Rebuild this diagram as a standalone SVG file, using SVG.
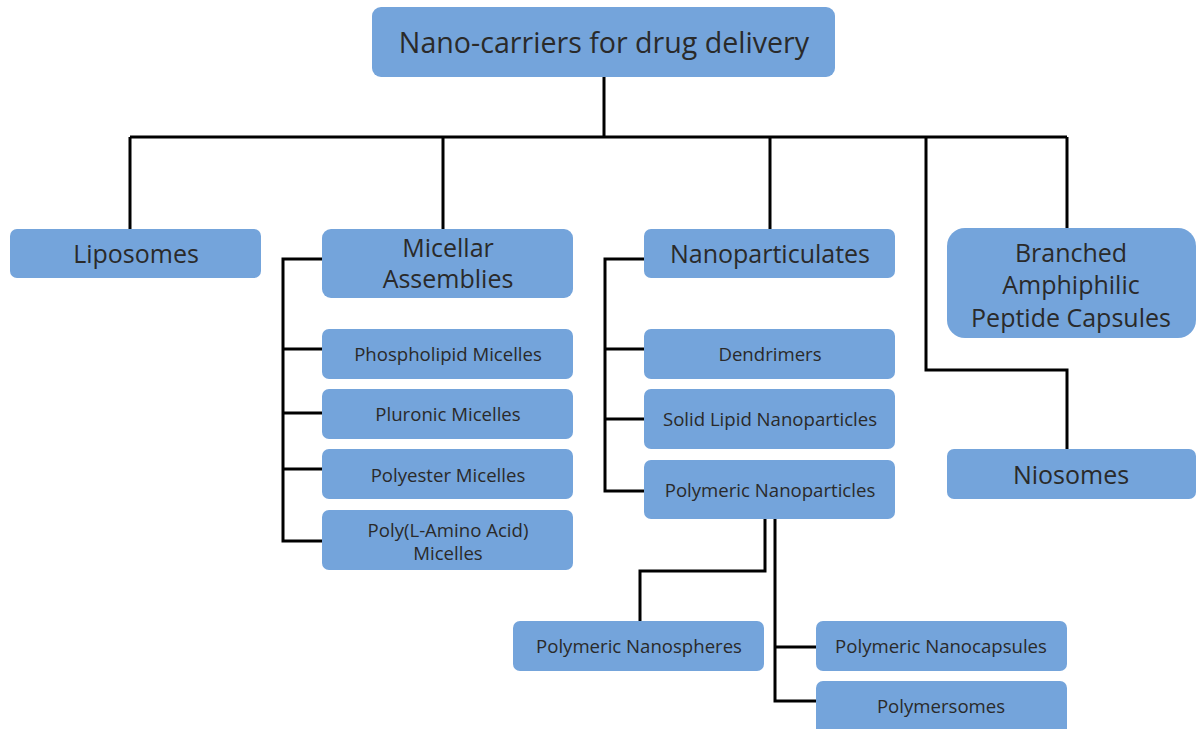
<svg xmlns="http://www.w3.org/2000/svg" width="1196" height="729" viewBox="0 0 1196 729">
<style>
.box{fill:#74A4DB;}
.t{font-family:"Open Sans","Noto Sans","Liberation Sans",sans-serif;fill:#2A2A2A;text-anchor:middle;}
.xl{font-size:28.6px;}
.l{font-size:25px;}
.s{font-size:18.6px;}
.c{fill:none;stroke:#000;stroke-width:3;stroke-linejoin:miter;}
</style>
<rect width="1196" height="729" fill="#fff"/>
<g id="connectors">
<path class="c" d="M604 77V137M130 137H1067M130 137V229M443 137V229M770 137V229M1067 137V228M926 137V370H1067V449"/>
<path class="c" d="M322 259H283V541H322M283 349H322M283 413H322M283 469H322"/>
<path class="c" d="M644 259H605V491H644M605 349H644M605 419H644"/>
<path class="c" d="M765 519V571H640V621M775 519V701H816M775 647H816"/>
</g>
<g id="root"><rect class="box" x="372" y="7" width="463" height="70" rx="9"/><text class="t xl" x="604" y="53">Nano-carriers for drug delivery</text></g>
<g id="liposomes"><rect class="box" x="10" y="229" width="251" height="49" rx="7"/><text class="t l" x="136" y="263">Liposomes</text></g>
<g id="micellar"><rect class="box" x="322" y="229" width="251" height="69" rx="9"/><text class="t l" x="448" y="257">Micellar</text><text class="t l" x="448" y="288">Assemblies</text></g>
<g id="phospholipid"><rect class="box" x="322" y="329" width="251" height="50" rx="7"/><text class="t s" x="448" y="361">Phospholipid Micelles</text></g>
<g id="pluronic"><rect class="box" x="322" y="389" width="251" height="50" rx="7"/><text class="t s" x="448" y="421">Pluronic Micelles</text></g>
<g id="polyester"><rect class="box" x="322" y="449" width="251" height="50" rx="7"/><text class="t s" x="448" y="482">Polyester Micelles</text></g>
<g id="polyamino"><rect class="box" x="322" y="510" width="251" height="60" rx="7"/><text class="t s" x="448" y="537">Poly(L-Amino Acid)</text><text class="t s" x="448" y="560">Micelles</text></g>
<g id="nanoparticulates"><rect class="box" x="644" y="229" width="251" height="49" rx="7"/><text class="t l" x="770" y="263">Nanoparticulates</text></g>
<g id="dendrimers"><rect class="box" x="644" y="329" width="251" height="50" rx="7"/><text class="t s" x="770" y="361">Dendrimers</text></g>
<g id="sln"><rect class="box" x="644" y="389" width="251" height="60" rx="7"/><text class="t s" x="770" y="426">Solid Lipid Nanoparticles</text></g>
<g id="polynp"><rect class="box" x="644" y="460" width="251" height="59" rx="7"/><text class="t s" x="770" y="497">Polymeric Nanoparticles</text></g>
<g id="branched"><rect class="box" x="947" y="228" width="249" height="110" rx="18"/><text class="t l" x="1071" y="262">Branched</text><text class="t l" x="1071" y="294">Amphiphilic</text><text class="t l" x="1071" y="327">Peptide Capsules</text></g>
<g id="niosomes"><rect class="box" x="947" y="449" width="249" height="50" rx="7"/><text class="t l" x="1071" y="484">Niosomes</text></g>
<g id="nanospheres"><rect class="box" x="513" y="621" width="251" height="50" rx="7"/><text class="t s" x="639" y="653">Polymeric Nanospheres</text></g>
<g id="nanocapsules"><rect class="box" x="816" y="621" width="251" height="50" rx="7"/><text class="t s" x="941" y="653">Polymeric Nanocapsules</text></g>
<g id="polymersomes"><rect class="box" x="816" y="681" width="251" height="55" rx="7"/><text class="t s" x="941" y="713">Polymersomes</text></g>
</svg>
